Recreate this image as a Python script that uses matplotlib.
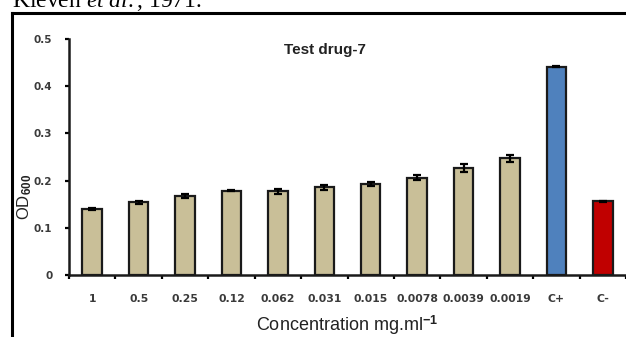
import matplotlib
matplotlib.use('Agg')
import matplotlib.pyplot as plt
from matplotlib.lines import Line2D
import numpy as np

plt.rcParams['mathtext.fontset'] = 'custom'
plt.rcParams['mathtext.rm'] = 'Liberation Serif'
plt.rcParams['mathtext.it'] = 'Liberation Serif:italic'
plt.rcParams['mathtext.bf'] = 'Liberation Sans:bold'

# concentrations (mg/ml) and controls
categories = ['1', '0.5', '0.25', '0.12', '0.062', '0.031', '0.015', '0.0078',
              '0.0039', '0.0019', 'C+', 'C-']
od_values = [0.140, 0.154, 0.167, 0.179, 0.177, 0.186, 0.193, 0.206,
             0.227, 0.247, 0.441, 0.156]
od_errors = [0.003, 0.003, 0.004, 0.002, 0.005, 0.005, 0.004, 0.005,
             0.009, 0.008, 0.001, 0.001]
bar_colors = ['#C9BF98'] * 10 + ['#4F81BD', '#C00000']
y_ticks = [0, 0.1, 0.2, 0.3, 0.4, 0.5]
y_tick_labels = ['0', '0.1', '0.2', '0.3', '0.4', '0.5']

W, H = 626, 337
fig = plt.figure(figsize=(W / 100, H / 100), dpi=100)

# axes placed to match the picture
ax = fig.add_axes([69 / W, 1 - 275 / H, (626 - 69) / W, (275 - 39) / H])

x = np.arange(len(categories))
ax.bar(x, od_values, width=0.42, color=bar_colors, edgecolor='#1a1a1a',
       linewidth=1.6, zorder=2)
ax.errorbar(x, od_values, yerr=od_errors, fmt='none', ecolor='black',
            elinewidth=1.6, capsize=3, capthick=1.6, zorder=3)

ax.set_xlim(-0.5, len(categories) - 0.5)
ax.set_ylim(0, 0.5)
ax.set_yticks(y_ticks)
ax.set_yticklabels(y_tick_labels, fontsize=7.5, fontweight='bold', color='#3a3a3a')

# Excel style: ticks between categories, labels centred under bars
ax.set_xticks(np.arange(len(categories) + 1) - 0.5)
ax.set_xticklabels([])
ax.set_xticks(x, minor=True)
ax.set_xticklabels(categories, minor=True, fontsize=7.8, fontweight='bold',
                   color='#3a3a3a')
ax.tick_params(axis='x', which='minor', length=0, pad=14)
ax.tick_params(axis='x', which='major', direction='out', length=3, width=1.6)
ax.tick_params(axis='y', direction='out', length=3, width=1.6, pad=9)

for s in ['top', 'right']:
    ax.spines[s].set_visible(False)
for s in ['left', 'bottom']:
    ax.spines[s].set_linewidth(1.8)
    ax.spines[s].set_color('#1a1a1a')

fig.text(325 / W, 1 - 50 / H, 'Test drug-7', ha='center', va='center',
         fontsize=11, fontweight='bold', family='Liberation Sans', color='#222222')
fig.text(347 / W, 1 - 331 / H, r'Concentration mg.ml$^{\mathbf{-1}}$',
         ha='center', va='baseline', fontsize=13, family='Liberation Sans',
         color='#222222')
fig.text(25 / W, 1 - 197 / H, r'OD$_{\mathbf{600}}$', ha='center', va='center',
         rotation=90, fontsize=12, family='Liberation Sans', color='#222222')

# surrounding frame and caption fragment from the page
fig.add_artist(Line2D([12 / W, 1.0], [1 - 13 / H, 1 - 13 / H], color='black',
                      linewidth=2.2, transform=fig.transFigure))
fig.add_artist(Line2D([12 / W, 12 / W], [0, 1 - 13 / H], color='black',
                      linewidth=2.2, transform=fig.transFigure))
fig.text(12 / W, 1 - 7 / H, r'Kleven $\mathit{et\ al.}$, 1971.', ha='left',
         va='baseline', fontsize=17, family='Liberation Serif')

fig.savefig('out.png', dpi=100)
